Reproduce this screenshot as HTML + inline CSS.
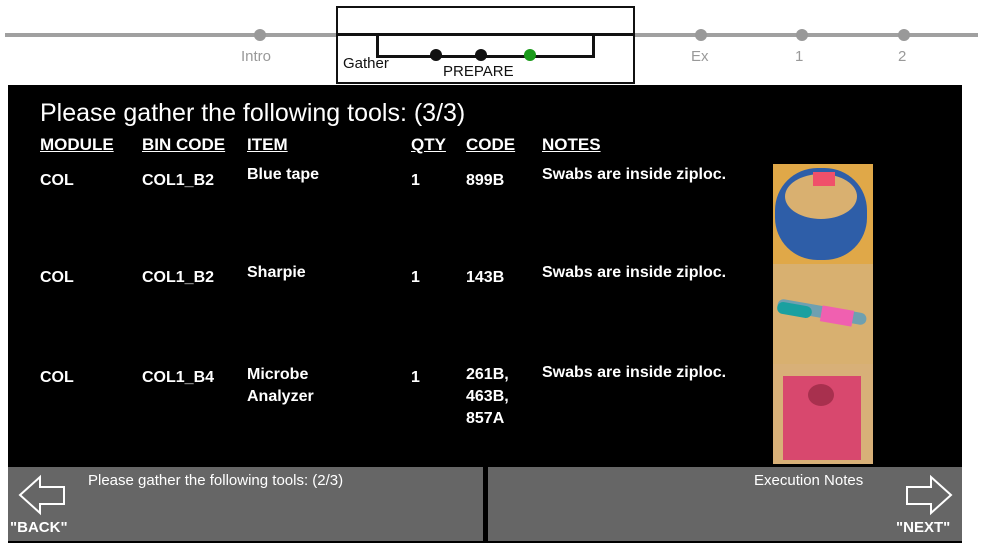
<!DOCTYPE html>
<html><head><meta charset="utf-8"><style>
*{margin:0;padding:0;box-sizing:border-box}
body{width:983px;height:550px;background:#fff;position:relative;overflow:hidden;font-family:"Liberation Sans",sans-serif}
.a{position:absolute;white-space:nowrap}
.w{color:#fff;font-size:16px;font-weight:bold}
.h{color:#fff;font-size:17px;font-weight:bold;text-decoration:underline}
.g{color:#999;font-size:15px}
.dot{position:absolute;width:12px;height:12px;border-radius:50%;background:#999}
</style></head><body>
<div class="a" style="left:5px;top:33px;width:973px;height:4px;background:#a0a0a0"></div>
<div class="dot" style="left:254px;top:29px"></div>
<div class="dot" style="left:695px;top:29px"></div>
<div class="dot" style="left:796px;top:29px"></div>
<div class="dot" style="left:898px;top:29px"></div>
<div class="a g" style="left:241px;top:48px">Intro</div>
<div class="a g" style="left:691px;top:48px">Ex</div>
<div class="a g" style="left:795px;top:48px">1</div>
<div class="a g" style="left:898px;top:48px">2</div>
<div class="a" style="left:336px;top:6px;width:299px;height:78px;background:#fff;border:2px solid #111"></div>
<div class="a" style="left:336px;top:33px;width:299px;height:3px;background:#111"></div>
<div class="a" style="left:376px;top:35px;width:219px;height:23px;border:3px solid #111;border-top:none"></div>
<div class="a" style="left:430px;top:49px;width:12px;height:12px;border-radius:50%;background:#111"></div>
<div class="a" style="left:475px;top:49px;width:12px;height:12px;border-radius:50%;background:#111"></div>
<div class="a" style="left:524px;top:49px;width:12px;height:12px;border-radius:50%;background:#1a9a1a"></div>
<div class="a" style="left:343px;top:55px;font-size:15px;color:#111">Gather</div>
<div class="a" style="left:443px;top:63px;font-size:15px;color:#111">PREPARE</div>

<div class="a" style="left:8px;top:85px;width:954px;height:458px;background:#000"></div>
<div class="a" style="left:40px;top:99px;color:#fff;font-size:25px">Please gather the following tools: (3/3)</div>
<div class="a h" style="left:40px;top:135px">MODULE</div>
<div class="a h" style="left:142px;top:135px">BIN CODE</div>
<div class="a h" style="left:247px;top:135px">ITEM</div>
<div class="a h" style="left:411px;top:135px">QTY</div>
<div class="a h" style="left:466px;top:135px">CODE</div>
<div class="a h" style="left:542px;top:135px">NOTES</div>

<div class="a w" style="left:40px;top:172px">COL</div>
<div class="a w" style="left:142px;top:172px">COL1_B2</div>
<div class="a w" style="left:247px;top:166px">Blue tape</div>
<div class="a w" style="left:411px;top:172px">1</div>
<div class="a w" style="left:466px;top:172px">899B</div>
<div class="a w" style="left:542px;top:166px">Swabs are inside ziploc.</div>

<div class="a w" style="left:40px;top:269px">COL</div>
<div class="a w" style="left:142px;top:269px">COL1_B2</div>
<div class="a w" style="left:247px;top:264px">Sharpie</div>
<div class="a w" style="left:411px;top:269px">1</div>
<div class="a w" style="left:466px;top:269px">143B</div>
<div class="a w" style="left:542px;top:264px">Swabs are inside ziploc.</div>

<div class="a w" style="left:40px;top:369px">COL</div>
<div class="a w" style="left:142px;top:369px">COL1_B4</div>
<div class="a w" style="left:247px;top:364px;line-height:22px">Microbe<br>Analyzer</div>
<div class="a w" style="left:411px;top:369px">1</div>
<div class="a w" style="left:466px;top:364px;line-height:22px">261B,<br>463B,<br>857A</div>
<div class="a w" style="left:542px;top:364px">Swabs are inside ziploc.</div>

<div class="a" style="left:773px;top:164px;width:100px;height:100px;background:#e0a848;overflow:hidden">
 <div class="a" style="left:2px;top:4px;width:92px;height:92px;border-radius:46%;background:#2e5ea8"></div>
 <div class="a" style="left:12px;top:10px;width:72px;height:45px;border-radius:50%;background:#d9b070"></div>
 <div class="a" style="left:40px;top:8px;width:22px;height:14px;background:#f0506a"></div>
</div>
<div class="a" style="left:773px;top:264px;width:100px;height:100px;background:#d8b070;overflow:hidden">
 <div class="a" style="left:4px;top:42px;width:90px;height:12px;border-radius:6px;background:#6fa0b0;transform:rotate(10deg)"></div>
 <div class="a" style="left:4px;top:40px;width:35px;height:12px;border-radius:6px;background:#1aa0a0;transform:rotate(10deg)"></div>
 <div class="a" style="left:48px;top:44px;width:32px;height:16px;background:#f060b0;transform:rotate(10deg)"></div>
</div>
<div class="a" style="left:773px;top:364px;width:100px;height:100px;background:#d8b078;overflow:hidden">
 <div class="a" style="left:10px;top:12px;width:78px;height:84px;background:#d8486e"></div>
 <div class="a" style="left:35px;top:20px;width:26px;height:22px;border-radius:50%;background:#a8304e"></div>
</div>

<div class="a" style="left:8px;top:467px;width:475px;height:74px;background:#666"></div>
<div class="a" style="left:488px;top:467px;width:474px;height:74px;background:#666"></div>
<svg class="a" style="left:18px;top:474px" width="50" height="42"><polygon points="2,21 22,3 22,13 46,13 46,30 22,30 22,39" fill="none" stroke="#fff" stroke-width="2"/></svg>
<svg class="a" style="left:903px;top:474px" width="50" height="42"><polygon points="48,21 28,3 28,13 4,13 4,30 28,30 28,39" fill="none" stroke="#fff" stroke-width="2"/></svg>
<div class="a" style="left:88px;top:472px;color:#fff;font-size:15px">Please gather the following tools: (2/3)</div>
<div class="a" style="left:754px;top:472px;color:#fff;font-size:15px">Execution Notes</div>
<div class="a" style="left:10px;top:519px;color:#fff;font-size:15px;font-weight:bold">"BACK"</div>
<div class="a" style="left:896px;top:519px;color:#fff;font-size:15px;font-weight:bold">"NEXT"</div>
</body></html>
